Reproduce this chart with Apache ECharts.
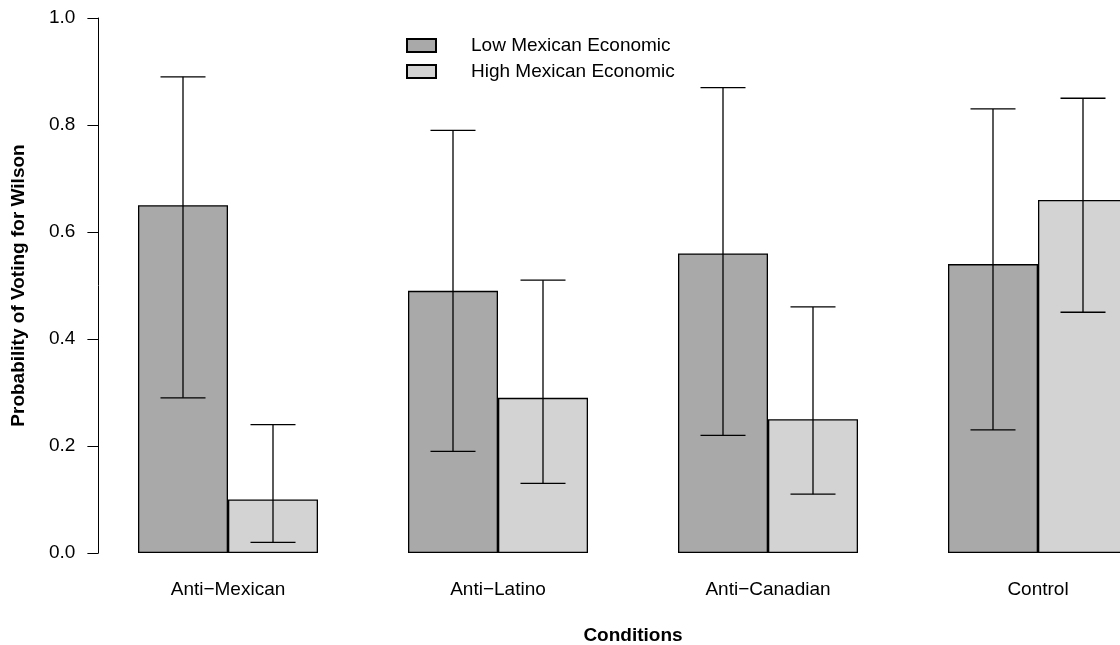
<!DOCTYPE html>
<html>
<head>
<meta charset="utf-8">
<script src="https://cdn.jsdelivr.net/npm/echarts@6/dist/echarts.min.js"></script>
<style>
html,body{margin:0;padding:0;background:#fff;}
#chart{width:1120px;height:645px;}
</style>
</head>
<body>
<div id="chart"></div>
<script>
const categories = ['Anti\u2212Mexican', 'Anti\u2212Latino', 'Anti\u2212Canadian', 'Control'];
const seriesNames = ['Low Mexican Economic', 'High Mexican Economic'];
const lowMean  = [0.65, 0.49, 0.56, 0.54];
const lowLower = [0.29, 0.19, 0.22, 0.23];
const lowUpper = [0.89, 0.79, 0.87, 0.83];
const highMean  = [0.10, 0.29, 0.25, 0.66];
const highLower = [0.02, 0.13, 0.11, 0.45];
const highUpper = [0.24, 0.51, 0.46, 0.85];
const yTickLabels = ['0.0', '0.2', '0.4', '0.6', '0.8', '1.0'];

const FONT = '"Liberation Sans", Arial, Helvetica, sans-serif';
const chart = echarts.init(document.getElementById('chart'), null, {renderer: 'canvas'});

function errData(lo, hi) {
  return categories.map((c, i) => [i, lo[i], hi[i]]);
}
function makeErr(side) {
  return function (params, api) {
    const i = api.value(0);
    const pLo = api.coord([i, api.value(1)]);
    const pHi = api.coord([i, api.value(2)]);
    const band = api.size([1, 0])[0];
    const cx = pLo[0] + side * band / 6;
    const cap = band / 12;
    const st = {stroke: '#000', lineWidth: 1.3};
    return {
      type: 'group',
      children: [
        {type: 'line', shape: {x1: cx, y1: pLo[1], x2: cx, y2: pHi[1]}, style: st},
        {type: 'line', shape: {x1: cx - cap, y1: pHi[1], x2: cx + cap, y2: pHi[1]}, style: st},
        {type: 'line', shape: {x1: cx - cap, y1: pLo[1], x2: cx + cap, y2: pLo[1]}, style: st}
      ]
    };
  };
}

const option = {
  animation: false,
  backgroundColor: '#fff',
  textStyle: {fontFamily: FONT, color: '#000'},
  grid: {left: 93, top: 18, width: 1080, height: 535, containLabel: false, outerBoundsMode: 'none'},
  legend: {
    data: seriesNames,
    orient: 'vertical',
    left: 401,
    top: 31,
    itemWidth: 29,
    itemHeight: 13,
    itemGap: 7,
    icon: 'rect',
    textStyle: {fontFamily: FONT, fontSize: 19, color: '#000', padding: [0, 0, 0, 30]}
  },
  xAxis: {
    type: 'category',
    data: categories,
    axisLine: {show: false},
    axisTick: {show: false},
    axisLabel: {margin: 27, fontSize: 19, color: '#000', fontFamily: FONT},
    name: 'Conditions',
    nameLocation: 'middle',
    nameGap: 73,
    nameTextStyle: {fontSize: 19, fontWeight: 'bold', color: '#000', fontFamily: FONT}
  },
  yAxis: {
    type: 'value',
    min: 0,
    max: 1,
    interval: 0.2,
    offset: -5.4,
    splitLine: {show: false},
    axisLine: {show: true, lineStyle: {color: '#000', width: 1}},
    axisTick: {show: true, length: 11, inside: false, lineStyle: {color: '#000', width: 1}},
    axisLabel: {
      margin: 23, fontSize: 19, color: '#000', fontFamily: FONT,
      formatter: function (v) { return yTickLabels[Math.round(v / 0.2)]; }
    },
    name: 'Probability of Voting for Wilson',
    nameLocation: 'middle',
    nameRotate: 90,
    nameGap: 70,
    nameTextStyle: {fontSize: 19, fontWeight: 'bold', color: '#000', fontFamily: FONT}
  },
  series: [
    {
      name: seriesNames[0], type: 'bar', data: lowMean,
      barWidth: '33.3333%', barGap: '0%',
      itemStyle: {color: '#A9A9A9', borderColor: '#000', borderWidth: 1.3}
    },
    {
      name: seriesNames[1], type: 'bar', data: highMean,
      barWidth: '33.3333%', barGap: '0%',
      itemStyle: {color: '#D3D3D3', borderColor: '#000', borderWidth: 1.3}
    },
    {
      type: 'custom', data: errData(lowLower, lowUpper), renderItem: makeErr(-1),
      encode: {x: 0, y: [1, 2]}, z: 5, silent: true
    },
    {
      type: 'custom', data: errData(highLower, highUpper), renderItem: makeErr(1),
      encode: {x: 0, y: [1, 2]}, z: 5, silent: true
    }
  ]
};
chart.setOption(option);
</script>
</body>
</html>
